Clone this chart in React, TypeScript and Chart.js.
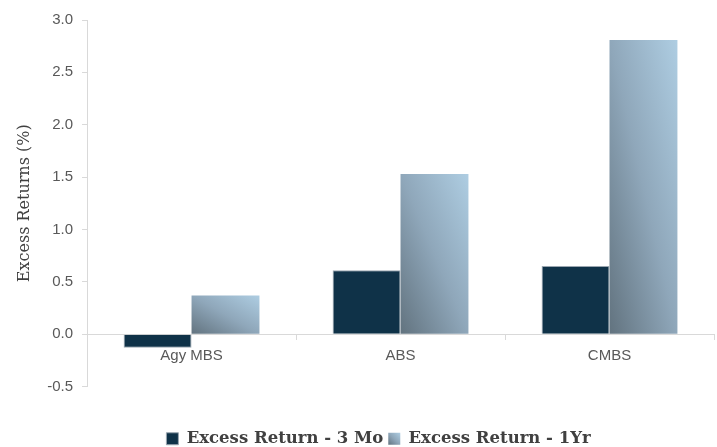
import React, { useEffect, useRef } from "react";
import { Chart, registerables } from "chart.js";

Chart.register(...registerables);

const categories = ["Agy MBS", "ABS", "CMBS"];
const seriesNames = ["Excess Return - 3 Mo", "Excess Return - 1Yr"];
const return3Mo = [-0.13, 0.61, 0.65];
const return1Yr = [0.37, 1.53, 2.81];
const yMin = -0.5;
const yMax = 3.0;
const yStep = 0.5;

const DARK = "#0f3248";
const G0 = "#62737f";
const G1 = "#8fa7ba";
const G2 = "#aecde2";
const CAT_PCT = 0.65;

function diagGradient(ctx: CanvasRenderingContext2D, left: number, top: number, right: number, bottom: number) {
  const w = Math.max(right - left, 1);
  const h = Math.max(bottom - top, 1);
  const k = (2 * w * h) / (w * w + h * h);
  const g = ctx.createLinearGradient(left, bottom, left + h * k, bottom - w * k);
  g.addColorStop(0, G0);
  g.addColorStop(0.5, G1);
  g.addColorStop(1, G2);
  return g;
}

const legendShiftPlugin = {
  id: "legendShift",
  afterLayout(chart: any) {
    const legend = chart.legend;
    if (!legend) return;
    legend.left += 14;
    legend.right += 14;
  },
};

const legendGradientPlugin = {
  id: "legendGradient",
  beforeDraw(chart: any) {
    const legend = chart.legend;
    if (!legend || !legend.legendHitBoxes || !legend.legendItems) return;
    const hb = legend.legendHitBoxes[1];
    const item = legend.legendItems[1];
    if (!hb || !item) return;
    const bw = legend.options.labels.boxWidth;
    const bh = legend.options.labels.boxHeight;
    const fs = legend.options.labels.font.size;
    const top = hb.top + Math.max((fs - bh) / 2, 0);
    item.fillStyle = diagGradient(chart.ctx, hb.left, top, hb.left + bw, top + bh);
  },
};

export default function App() {
  const ref = useRef<HTMLCanvasElement>(null);
  useEffect(() => {
    if (!ref.current) return;
    const chart = new Chart(ref.current, {
      type: "bar",
      data: {
        labels: categories,
        datasets: [
          {
            label: seriesNames[0],
            data: return3Mo,
            backgroundColor: DARK,
            borderColor: "#9aa6b0",
            borderWidth: 1,
            categoryPercentage: CAT_PCT,
            barPercentage: 1,
          },
          {
            label: seriesNames[1],
            data: return1Yr,
            backgroundColor: (c: any) => {
              const chart = c.chart;
              if (c.type !== "data" || !chart.chartArea || !chart.scales.x || !chart.scales.y) return G1;
              const xs = chart.scales.x;
              const ys = chart.scales.y;
              const center = xs.getPixelForValue(c.dataIndex);
              const bw = (xs.width / categories.length) * CAT_PCT / 2;
              const v = return1Yr[c.dataIndex];
              const p0 = ys.getPixelForValue(0);
              const pv = ys.getPixelForValue(v);
              return diagGradient(chart.ctx, center, Math.min(p0, pv), center + bw, Math.max(p0, pv));
            },
            borderWidth: 0,
            categoryPercentage: CAT_PCT,
            barPercentage: 1,
          },
        ],
      },
      options: {
        animation: false,
        responsive: false,
        maintainAspectRatio: false,
        layout: { padding: { top: 20, right: 3, left: 15, bottom: -10 } },
        plugins: {
          tooltip: { enabled: false },
          legend: {
            position: "bottom",
            title: {
              display: true,
              text: "",
              font: { size: 10, lineHeight: 1 },
              padding: { top: 29, bottom: 0 },
            },
            labels: {
              boxWidth: 12,
              boxHeight: 12,
              padding: 5,
              color: "#404040",
              font: { family: "'DejaVu Serif'", size: 16.5, weight: "bold" },
            },
          },
        },
        scales: {
          x: {
            position: { y: 0 } as any,
            grid: {
              display: true,
              drawOnChartArea: false,
              drawTicks: true,
              tickLength: 5,
              color: "#d9d9d9",
              offset: true,
            },
            border: { display: true, color: "#d9d9d9" },
            ticks: {
              color: "#595959",
              font: { family: "'Liberation Sans'", size: 15 },
              padding: 8,
            },
          },
          y: {
            min: yMin,
            max: yMax,
            grid: {
              display: true,
              drawOnChartArea: false,
              drawTicks: true,
              tickLength: 5,
              color: "#d9d9d9",
            },
            border: { display: true, color: "#d9d9d9" },
            ticks: {
              stepSize: yStep,
              color: "#595959",
              font: { family: "'Liberation Sans'", size: 15 },
              padding: 9,
              callback: (v: any) => Number(v).toFixed(1),
            },
            title: {
              display: true,
              text: "Excess Returns (%)",
              color: "#404040",
              font: { family: "'DejaVu Serif'", size: 16 },
              padding: { top: 0, bottom: 4 },
            },
          },
        },
      },
      plugins: [legendShiftPlugin, legendGradientPlugin],
    });
    return () => chart.destroy();
  }, []);
  return (
    <div style={{ position: "absolute", left: 0, top: 0, width: 717, height: 447 }}>
      <canvas ref={ref} width={717} height={447} style={{ width: 717, height: 447 }} />
    </div>
  );
}
